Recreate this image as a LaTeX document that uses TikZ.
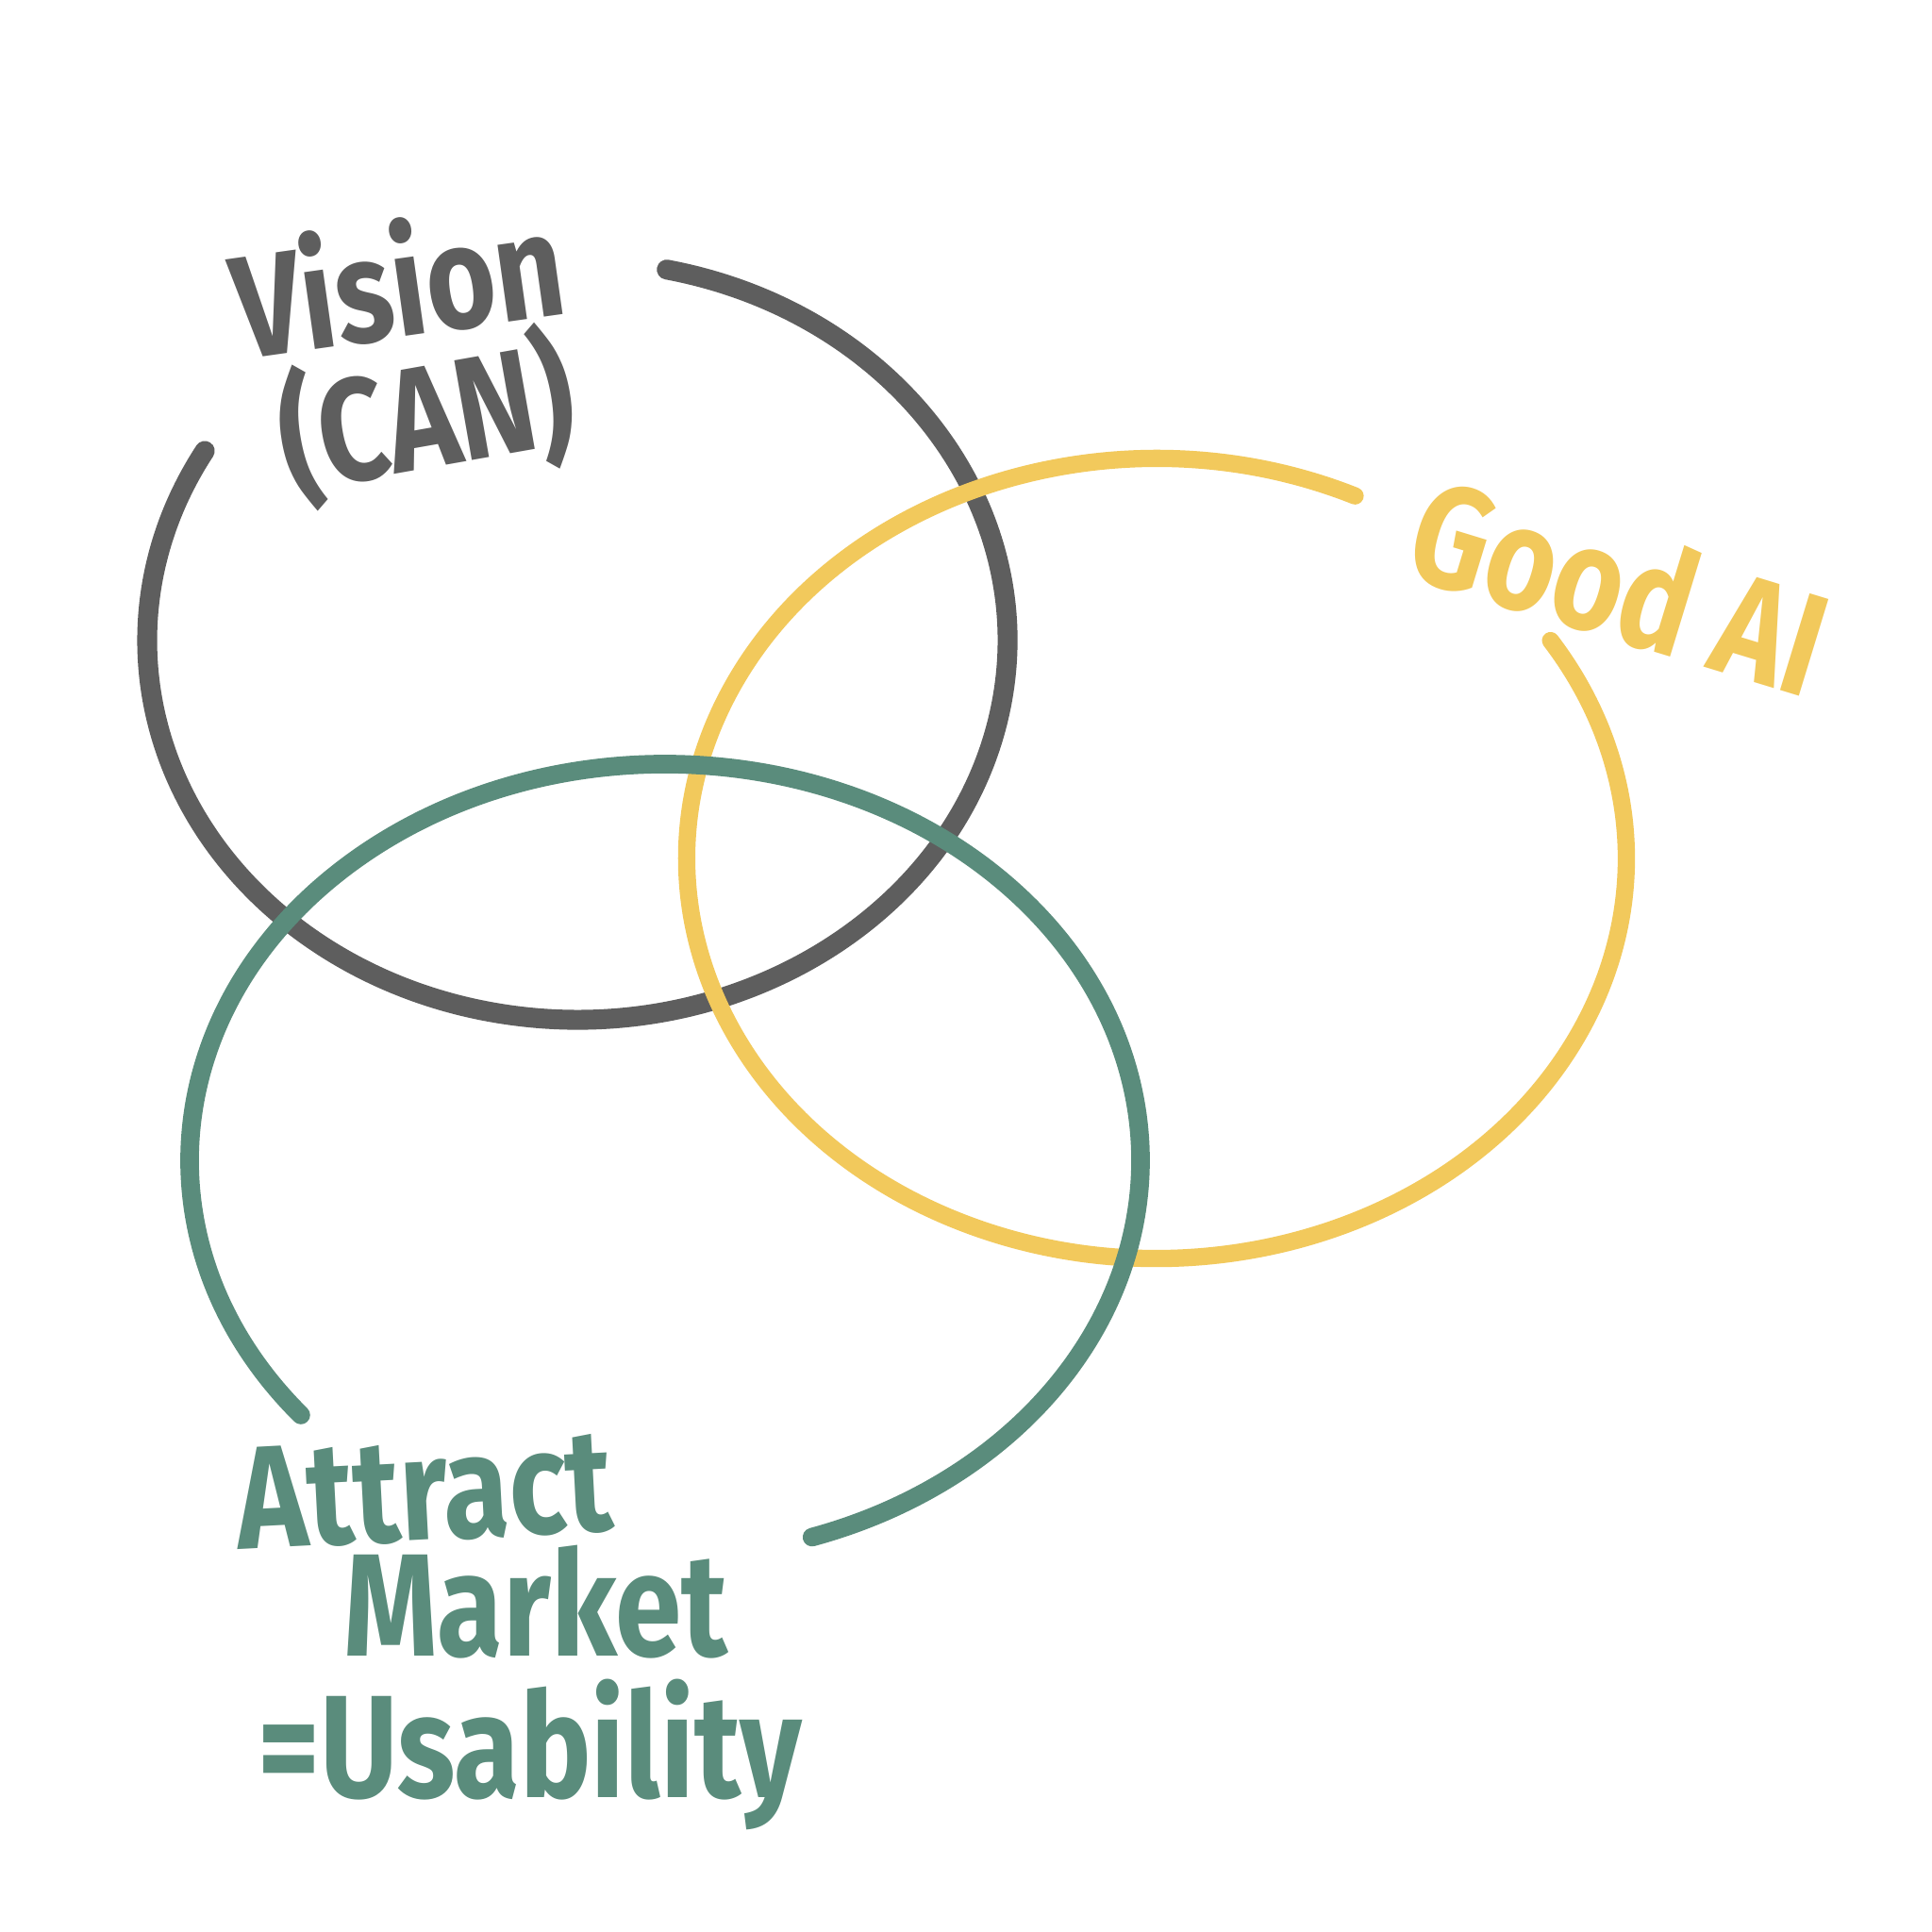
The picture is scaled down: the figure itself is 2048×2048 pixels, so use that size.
\documentclass[tikz,border=0pt]{standalone}
\usepackage{fontspec}
\setmainfont{Fira Sans}
\definecolor{visiongray}{HTML}{5E5E5E}
\definecolor{aiyellow}{HTML}{F2C95C}
\definecolor{marketgreen}{HTML}{5A8C7C}
\newcommand{\hand}[1]{\scalebox{0.82}[1]{#1}}
\begin{document}
\begin{tikzpicture}
	[
		x=0.01cm, y=0.01cm,
		Ring/.style={line width=5.6pt, line cap=round}
	]
	
	\tikzstyle{Label} = [
		inner sep=0pt,
		font=\bfseries\fontsize{44}{48}\selectfont
	]
	
	\fill[white] (0,0) rectangle (2048,2048);
	\useasboundingbox (0,0) rectangle (2048,2048);
	
	% centres of the three rings
	\coordinate (visionC) at (612,1369);
	\coordinate (aiC) at (1226,1138);
	\coordinate (marketC) at (705,818);
	
	\draw[Ring, visiongray, line width=6pt] (visionC) ++(78:456 and 402)
		arc[start angle=78, end angle=-210, x radius=456, y radius=402];
	\draw[Ring, aiyellow, line width=5.2pt] (aiC) ++(65:498 and 424)
		arc[start angle=65, end angle=393, x radius=498, y radius=424];
	\draw[Ring, marketgreen] (marketC) ++(220:504 and 420)
		arc[start angle=220, end angle=-72, x radius=504, y radius=420];
	
	\node [Label, text=visiongray, rotate=8] (vision) at (421,1752) {\hand{Vision}};
	\node [Label, text=visiongray, rotate=10] (can) at (452,1606) {\hand{(CAN)}};
	\node [Label, text=aiyellow, rotate=-17] (goodai) at (1717,1428) {\hand{Good AI}};
	\node [Label, text=marketgreen, rotate=3] (attract) at (450,468) {\hand{Attract}};
	\node [Label, text=marketgreen] (market) at (568,350) {\hand{Market}};
	\node [Label, text=marketgreen] (usability) at (562,188) {\hand{=Usability}};
\end{tikzpicture}
\end{document}
